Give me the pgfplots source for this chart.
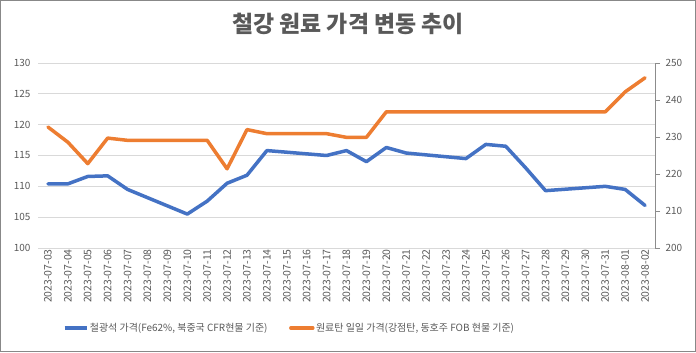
\documentclass[border=0pt]{standalone}
\usepackage{pgfplots}
\pgfplotsset{compat=1.18}
\usepackage{fontspec}
\setmainfont{Noto Sans CJK KR}
\definecolor{cblue}{HTML}{4472C4}
\definecolor{corange}{HTML}{ED7D31}
\definecolor{tgray}{HTML}{595959}
\definecolor{ggray}{HTML}{D9D9D9}
\definecolor{agray}{HTML}{8C8C8C}
\definecolor{fgray}{HTML}{888888}
\newcommand\tickfont{\fontsize{10}{12}\selectfont}
\newcommand\datefont{\fontsize{10.5}{12}\selectfont}
\newcommand\legfont{\fontsize{10}{12}\selectfont}
\pgfplotstableread{
x y
0 110.4
1 110.4
2 111.6
3 111.7
4 109.5
7 105.5
8 107.6
9 110.5
10 111.8
11 115.8
14 115.0
15 115.8
16 114.0
17 116.3
18 115.4
21 114.5
22 116.8
23 116.5
24 113.0
25 109.3
28 110.0
29 109.5
30 106.9
}\ironore
\pgfplotstableread{
x y
0 232.7
1 228.6
2 222.8
3 229.7
4 229.1
7 229.1
8 229.1
9 221.4
10 232.0
11 230.9
14 230.9
15 229.9
16 229.9
17 236.8
18 236.8
21 236.8
22 236.8
23 236.8
24 236.8
25 236.8
28 236.8
29 242.2
30 246.0
}\coal
\begin{document}
\begin{tikzpicture}[x=1bp,y=1bp]
\path[use as bounding box] (0,0) rectangle (696,352);
\draw[color=fgray, line width=1bp] (0.5,0.5) rectangle (695.5,351.5);
\node[font=\fontsize{23}{26}\selectfont\bfseries, text=tgray] at (348,328) {철강 원료 가격 변동 추이};
\begin{axis}[
  at={(38bp,104bp)}, anchor=south west, scale only axis,
  width=617bp, height=185bp,
  xmin=-0.5, xmax=30.5, ymin=100, ymax=130,
  ytick={100,105,...,130},
  ymajorgrids, grid style={ggray, line width=0.8bp},
  axis line style={draw=none},
  xtick={0,...,30},
  xticklabels={2023-07-03,2023-07-04,2023-07-05,2023-07-06,2023-07-07,2023-07-08,2023-07-09,2023-07-10,2023-07-11,2023-07-12,2023-07-13,2023-07-14,2023-07-15,2023-07-16,2023-07-17,2023-07-18,2023-07-19,2023-07-20,2023-07-21,2023-07-22,2023-07-23,2023-07-24,2023-07-25,2023-07-26,2023-07-27,2023-07-28,2023-07-29,2023-07-30,2023-07-31,2023-08-01,2023-08-02},
  xticklabel style={rotate=90, anchor=east, font=\datefont, text=tgray, inner sep=1bp},
  yticklabel style={font=\tickfont, text=tgray, xshift=-4bp},
  major tick length=0pt,
  /pgf/number format/assume math mode=true,
  clip=false,
]
\addplot[cblue, line width=3.5bp, line join=round, line cap=round] table[x=x,y=y] {\ironore};
\end{axis}
\begin{axis}[
  at={(38bp,104bp)}, anchor=south west, scale only axis,
  width=617bp, height=185bp,
  xmin=-0.5, xmax=30.5, ymin=200, ymax=250,
  ytick={200,210,...,250},
  axis x line=none,
  axis y line*=right,
  y axis line style={agray, line width=0.8bp},
  ytick style={agray, line width=0.8bp},
  tick align=outside, major tick length=5bp,
  yticklabel style={font=\tickfont, text=tgray, xshift=2bp},
  /pgf/number format/assume math mode=true,
  clip=false,
  legend style={at={(0.04,-0.432)}, anchor=west, draw=none, fill=none,
    font=\legfont, text=tgray, legend columns=2, inner sep=0pt,
    nodes={inner sep=1.5bp},
    /tikz/every even column/.append style={column sep=20bp}},
  legend image code/.code={\draw[#1] (0bp,0bp) -- (22bp,0bp);},
]
\addlegendimage{cblue, line width=3.5bp}
\addlegendentry{철광석 가격(Fe62\%, 북중국 CFR현물 기준)}
\addplot[corange, line width=3.5bp, line join=round, line cap=round] table[x=x,y=y] {\coal};
\addlegendentry{원료탄 일일 가격(강점탄, 동호주 FOB 현물 기준)}
\end{axis}
\end{tikzpicture}
\end{document}
